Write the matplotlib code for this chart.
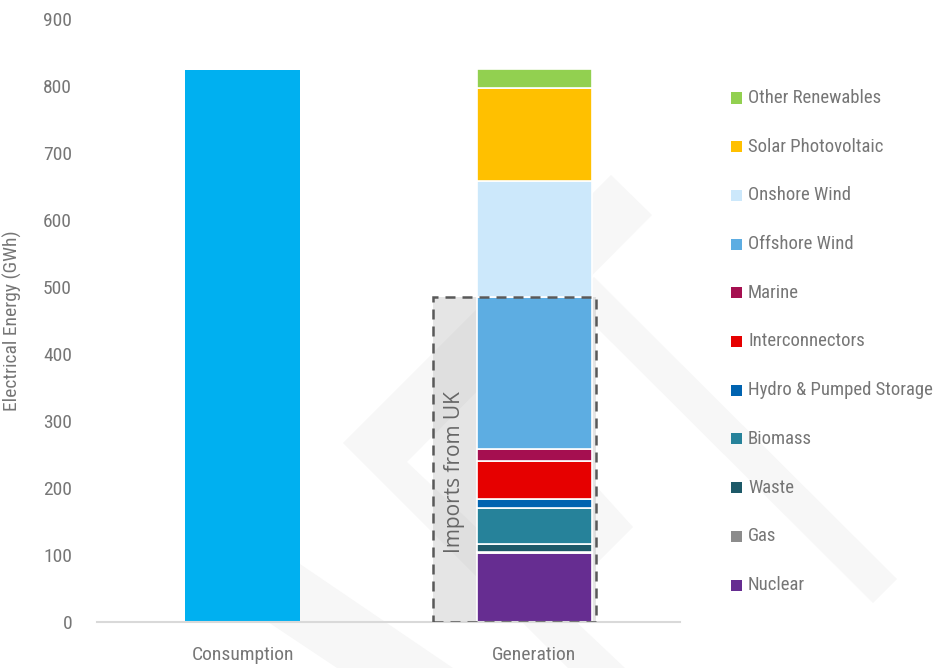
import numpy as np
import matplotlib.pyplot as plt
from matplotlib import font_manager
from matplotlib.patches import Polygon, Rectangle

# pick a narrow face for the labels if one is installed
installed = {f.name for f in font_manager.fontManager.ttflist}
narrow = [n for n in ["Liberation Sans Narrow", "Roboto Condensed", "Open Sans Condensed",
                      "DejaVu Sans Condensed", "Noto Sans Condensed"] if n in installed]
if not narrow:
    narrow = sorted(n for n in installed if "Condensed" in n or "Narrow" in n)
if narrow:
    plt.rcParams['font.family'] = [narrow[0], 'DejaVu Sans']
    fs = 14
else:
    plt.rcParams['font.family'] = ['DejaVu Sans']
    plt.rcParams['font.stretch'] = 'condensed'
    fs = 12

categories = ["Consumption", "Generation"]
consumption = 824

sources = ["Nuclear", "Gas", "Waste", "Biomass", "Hydro & Pumped Storage",
           "Interconnectors", "Marine", "Offshore Wind", "Onshore Wind",
           "Solar Photovoltaic", "Other Renewables"]
generation = [103, 2, 11, 54, 13, 57, 18, 227, 173, 139, 28]
colours = ["#662d91", "#8c8c8c", "#1d5968", "#26829a", "#0063b0",
           "#e60000", "#a50f50", "#5dade2", "#cce8fb", "#ffc000", "#92d050"]

# sources from nuclear up to offshore wind come in over the UK link
uk_sources = sources[:sources.index("Offshore Wind") + 1]
uk_imports = sum(generation[:len(uk_sources)])

W, H = 940, 668
text_grey = "#767676"


def px(x, y):
    return (x / W, 1 - y / H)


fig = plt.figure(figsize=(W / 100, H / 100), dpi=100)

# faint logo behind the chart
logo = [
    [(611, 175), (652, 215), (407, 462), (625, 668), (568, 668), (343, 443)],
    [(594, 277), (897, 579), (873, 603), (570, 301)],
    [(594, 484), (633, 527), (594, 566)],
    [(250, 530), (453, 668), (337, 668), (250, 610)],
]
for pts in logo:
    fig.add_artist(Polygon([px(*p) for p in pts], closed=True,
                           transform=fig.transFigure, facecolor="#f7f7f7",
                           edgecolor="none", zorder=-1))

ax = fig.add_axes([97 / W, 1 - 622 / H, 583 / W, 603 / H])
ax.set_facecolor("none")

width = 0.395
ax.bar(0, consumption, width=width, color="#00b0f0", zorder=2)

bottoms = np.concatenate([[0], np.cumsum(generation)[:-1]])
ax.bar(np.ones(len(generation)), generation, bottom=bottoms, width=width,
       color=colours, edgecolor="white", linewidth=1.2, zorder=2)

# UK imports block
box_left, box_right = 1 - 0.347, 1 + 0.212
ax.add_patch(Rectangle((box_left, 0), box_right - box_left, uk_imports,
                       facecolor=(0.5, 0.5, 0.5, 0.2), edgecolor="none", zorder=1))
ax.add_patch(Rectangle((box_left, 0), box_right - box_left, uk_imports,
                       fill=False, edgecolor="#595959", linewidth=1.8,
                       linestyle=(0, (4, 2.8)), zorder=3))
ax.text((box_left + 1 - width / 2) / 2, uk_imports * 0.46, "Imports from UK",
        rotation=90, ha="center", va="center", fontsize=15, stretch="normal",
        family=["Open Sans", "DejaVu Sans"], color="#666666", zorder=4)

ax.set_xlim(-0.5, 1.5)
ax.set_ylim(0, 900)
ax.set_xticks(range(len(categories)))
ax.set_xticklabels(categories)
ax.set_yticks(range(0, 1000, 100))
ax.tick_params(axis="both", length=0, labelsize=fs, labelcolor=text_grey)
ax.tick_params(axis="x", pad=17)
ax.tick_params(axis="y", pad=18)
for side in ["top", "right", "left"]:
    ax.spines[side].set_visible(False)
ax.spines["bottom"].set_color("#d9d9d9")
ax.spines["bottom"].set_linewidth(1.5)

ax.set_ylabel("Electrical Energy (GWh)", fontsize=fs, color=text_grey)
ax.yaxis.set_label_coords(-0.129, 0.5)

# legend, top entry is the top of the stack
for i, (name, c) in enumerate(zip(sources[::-1], colours[::-1])):
    y = 98 + i * 48.7
    fig.add_artist(Rectangle(px(731, y + 5.5), 11 / W, 11 / H,
                             transform=fig.transFigure, facecolor=c,
                             edgecolor="none"))
    fig.text(748 / W, 1 - y / H, name, va="center", ha="left",
             fontsize=fs - 0.5, color=text_grey)

fig.savefig("out.png", dpi=100)
